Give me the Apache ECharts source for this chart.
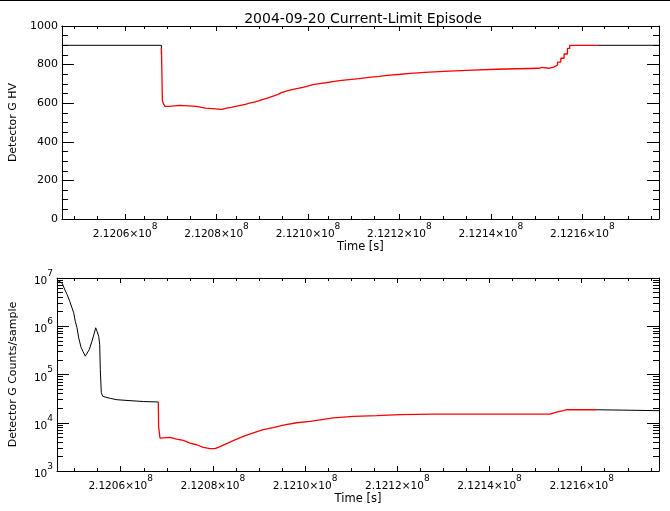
<!DOCTYPE html>
<html><head><meta charset="utf-8">
<script src="https://cdn.jsdelivr.net/npm/echarts@6/dist/echarts.min.js"></script>
<style>html,body{margin:0;padding:0;background:#fff}#c{width:670px;height:511px}</style>
</head><body><div id="c"></div>
<script>
const chartTitle = '2004-09-20 Current-Limit Episode';
const xName = 'Time [s]';
const hvName = 'Detector G HV';
const cntName = 'Detector G Counts/sample';
const xMin = 212046182, xMax = 212176768;
const xMajorTicks = [212060000, 212080000, 212100000, 212120000, 212140000, 212160000];
const xMinorTicks = [212050000, 212055000, 212065000, 212070000, 212075000, 212085000, 212090000, 212095000,
  212105000, 212110000, 212115000, 212125000, 212130000, 212135000, 212145000, 212150000, 212155000,
  212165000, 212170000, 212175000];
const hvTicks = [0, 200, 400, 600, 800, 1000];
const cntMinorTicks = [2e3,3e3,4e3,5e3,6e3,7e3,8e3,9e3, 2e4,3e4,4e4,5e4,6e4,7e4,8e4,9e4,
  2e5,3e5,4e5,5e5,6e5,7e5,8e5,9e5, 2e6,3e6,4e6,5e6,6e6,7e6,8e6,9e6];

// Detector HV (step curve)
const hvPreTime  = [212046182, 212067939, 212067939];
const hvPreValue = [900, 900, 850];
const hvEpTime  = [212067950, 212068156, 212068308, 212068525, 212068742, 212069610, 212071931, 212075618,
  212077571, 212081172, 212082191, 212083276, 212084144, 212085228, 212086313, 212087180, 212088265,
  212089349, 212090217, 212091302, 212092386, 212093471, 212094187, 212095271, 212096724, 212098894,
  212099978, 212101063, 212102516, 212103948, 212105401, 212106855, 212109024, 212111193, 212113362,
  212115532, 212117332, 212120217, 212122386, 212125575, 212129696, 212134685, 212141193, 212150521,
  212151172, 212152690, 212153124, 212153840, 212154577, 212155293, 212156009, 212156746, 212157245,
  212163254];
const hvEpValue = [886, 617, 600, 590, 584, 589, 584, 574,
  568, 574, 578, 584, 589, 594, 600, 606, 613,
  620, 628, 637, 646, 655, 663, 672, 682, 689,
  696, 701, 706, 712, 717, 722, 727, 734, 739,
  744, 750, 755, 760, 765, 770, 776, 781, 786,
  781, 781, 788, 798, 813, 833, 855, 884, 900,
  900];
const hvPostTime  = [212163254, 212176768];
const hvPostValue = [900, 900];

// Detector counts/sample (log)
const cntPreTime = [212046182, 212047267, 212047983, 212048351, 212048937, 212049436, 212049805, 212050152,
  212050521, 212050889, 212051388, 212051822, 212052321, 212052690, 212053189, 212053774, 212054273,
  212054577, 212054859, 212055228, 212055445, 212055575, 212055792, 212056095, 212056659, 212057744,
  212059197, 212061367, 212064989, 212067874, 212068156];
const cntPreValue = [9.0e6, 7.9e6, 5.4e6, 4.6e6, 3.3e6, 2.4e6, 1.9e6, 1.26e6,
  9.3e5, 5.75e5, 3.7e5, 3.0e5, 2.4e5, 2.6e5, 3.3e5, 4.9e5, 7.2e5,
  9.3e5, 7.9e5, 6.2e5, 4.2e5, 1.26e5, 4.2e4, 3.55e4, 3.4e4, 3.2e4,
  3.0e4, 2.9e4, 2.75e4, 2.7e4, 2.7e4];
const cntEpTime = [212068156, 212068221, 212068525, 212068894, 212070694, 212072148, 212073579, 212075033,
  212076486, 212077918, 212079371, 212080455, 212081540, 212082993, 212084794, 212086594, 212088763,
  212090933, 212093102, 212095271, 212098178, 212101063, 212103232, 212106117, 212110456, 212115532,
  212120586, 212127810, 212153124, 212153493, 212154577, 212156009, 212156746, 212163254];
const cntEpValue = [2.7e4, 8.5e3, 4.8e3, 4.8e3, 5.0e3, 4.6e3, 4.3e3, 3.8e3,
  3.5e3, 3.1e3, 2.9e3, 2.9e3, 3.2e3, 3.7e3, 4.4e3, 5.2e3, 6.2e3,
  7.2e3, 7.9e3, 8.9e3, 1.0e4, 1.07e4, 1.15e4, 1.26e4, 1.35e4, 1.41e4,
  1.48e4, 1.51e4, 1.51e4, 1.58e4, 1.66e4, 1.78e4, 1.86e4, 1.86e4];
const cntPostTime = [212163254, 212176768];
const cntPostValue = [1.86e4, 1.78e4];

const zip = (a, b) => a.map((v, i) => [v, b[i]]);
const FONT = 'DejaVu Sans';
const BLACK = '#000';
const RED = '#ff0000';

const grids = [
  {left: 57, top: 26, width: 602, height: 193},
  {left: 57, top: 26, width: 602, height: 193},
  {left: 57, top: 278, width: 602, height: 193},
  {left: 57, top: 278, width: 602, height: 193}
];

const xLabelFmt = v => '{m|' + (v / 1e8).toFixed(4) + '×10}{e|8}';
const supRich = {
  m: {fontFamily: FONT, fontSize: 10.5, color: BLACK, lineHeight: 18, verticalAlign: 'bottom'},
  e: {fontFamily: FONT, fontSize: 9, color: BLACK, lineHeight: 9, verticalAlign: 'top'}
};
const logLabelFmt = v => '{m|10}{e|' + Math.round(Math.log10(v)) + '}';

function xAxes(gi, minor) {
  const vals = minor ? xMinorTicks : xMajorTicks;
  const len = minor ? 3 : 5;
  return ['bottom', 'top'].map((pos, k) => ({
    type: 'value', gridIndex: gi, position: pos, min: xMin, max: xMax,
    axisLine: {show: !minor, onZero: false, lineStyle: {color: BLACK, width: 1}},
    axisTick: {show: true, inside: true, length: len, customValues: vals, lineStyle: {color: BLACK, width: 1}},
    axisLabel: (k === 0 && !minor) ? {show: true, customValues: xMajorTicks, formatter: xLabelFmt, rich: supRich, margin: 3, color: BLACK} : {show: false},
    splitLine: {show: false},
    name: (k === 0 && !minor) ? xName : '',
    nameLocation: 'middle', nameGap: 18,
    nameTextStyle: {fontFamily: FONT, fontSize: 11.5, color: BLACK}
  }));
}

const xAxis = [].concat(xAxes(0, false), xAxes(1, true), xAxes(2, false), xAxes(3, true));

const yAxis = [
  // grid 0: HV linear
  {type: 'value', gridIndex: 0, position: 'left', min: 0, max: 1000, interval: 200,
   axisLine: {show: true, onZero: false, lineStyle: {color: BLACK}},
   axisTick: {inside: true, length: 12, lineStyle: {color: BLACK}},
   minorTick: {show: true, splitNumber: 4, length: 6, lineStyle: {color: BLACK}},
   axisLabel: {color: BLACK, fontFamily: FONT, fontSize: 11, margin: 4, formatter: v => String(v)},
   splitLine: {show: false},
   name: hvName, nameLocation: 'middle', nameGap: 38, nameRotate: 90,
   nameTextStyle: {fontFamily: FONT, fontSize: 11, color: BLACK}},
  {type: 'value', gridIndex: 0, position: 'right', min: 0, max: 1000, interval: 200,
   axisLine: {show: true, onZero: false, lineStyle: {color: BLACK}},
   axisTick: {inside: true, length: 12, lineStyle: {color: BLACK}},
   minorTick: {show: true, splitNumber: 4, length: 6, lineStyle: {color: BLACK}},
   axisLabel: {show: false}, splitLine: {show: false}},
  // grid 1 overlay (hidden y)
  {type: 'value', gridIndex: 1, min: 0, max: 1000, show: false},
  // grid 2: counts log
  {type: 'log', logBase: 10, gridIndex: 2, position: 'left', min: 1e3, max: 1e7,
   axisLine: {show: true, onZero: false, lineStyle: {color: BLACK}},
   axisTick: {inside: true, length: 12, lineStyle: {color: BLACK}},
   axisLabel: {color: BLACK, margin: 4, formatter: logLabelFmt, rich: supRich},
   splitLine: {show: false},
   name: cntName, nameLocation: 'middle', nameGap: 38, nameRotate: 90,
   nameTextStyle: {fontFamily: FONT, fontSize: 11, color: BLACK}},
  {type: 'log', logBase: 10, gridIndex: 2, position: 'right', min: 1e3, max: 1e7,
   axisLine: {show: true, onZero: false, lineStyle: {color: BLACK}},
   axisTick: {inside: true, length: 12, lineStyle: {color: BLACK}},
   axisLabel: {show: false}, splitLine: {show: false}},
  // grid 3 overlay: log minor ticks
  {type: 'log', logBase: 10, gridIndex: 3, position: 'left', min: 1e3, max: 1e7,
   axisLine: {show: false},
   axisTick: {inside: true, length: 6, customValues: cntMinorTicks, lineStyle: {color: BLACK}},
   axisLabel: {show: false}, splitLine: {show: false}},
  {type: 'log', logBase: 10, gridIndex: 3, position: 'right', min: 1e3, max: 1e7,
   axisLine: {show: false},
   axisTick: {inside: true, length: 6, customValues: cntMinorTicks, lineStyle: {color: BLACK}},
   axisLabel: {show: false}, splitLine: {show: false}}
];

const lineBase = {type: 'line', symbol: 'none', showSymbol: false, silent: true, animation: false};

const series = [
  Object.assign({}, lineBase, {xAxisIndex: 0, yAxisIndex: 0, step: 'end', data: zip(hvPreTime, hvPreValue), lineStyle: {color: BLACK, width: 1}}),
  Object.assign({}, lineBase, {xAxisIndex: 0, yAxisIndex: 0, step: 'end', data: zip(hvEpTime, hvEpValue), lineStyle: {color: RED, width: 1.3}}),
  Object.assign({}, lineBase, {xAxisIndex: 0, yAxisIndex: 0, step: 'end', data: zip(hvPostTime, hvPostValue), lineStyle: {color: BLACK, width: 1}}),
  Object.assign({}, lineBase, {xAxisIndex: 4, yAxisIndex: 3, data: zip(cntPreTime, cntPreValue), lineStyle: {color: BLACK, width: 1}}),
  Object.assign({}, lineBase, {xAxisIndex: 4, yAxisIndex: 3, data: zip(cntEpTime, cntEpValue), lineStyle: {color: RED, width: 1.3}}),
  Object.assign({}, lineBase, {xAxisIndex: 4, yAxisIndex: 3, data: zip(cntPostTime, cntPostValue), lineStyle: {color: BLACK, width: 1}})
];

const chart = echarts.init(document.getElementById('c'), null, {renderer: 'canvas'});
chart.setOption({
  animation: false,
  backgroundColor: '#fff',
  title: {text: chartTitle, left: 358, top: 7, textAlign: 'center',
    textStyle: {fontFamily: FONT, fontSize: 14, fontWeight: 'normal', color: BLACK}},
  grid: grids,
  xAxis: xAxis,
  yAxis: yAxis,
  series: series,
  graphic: [{type: 'line', shape: {x1: 0, y1: 0.5, x2: 670, y2: 0.5}, style: {stroke: BLACK, lineWidth: 1}, silent: true}]
});
</script></body></html>
